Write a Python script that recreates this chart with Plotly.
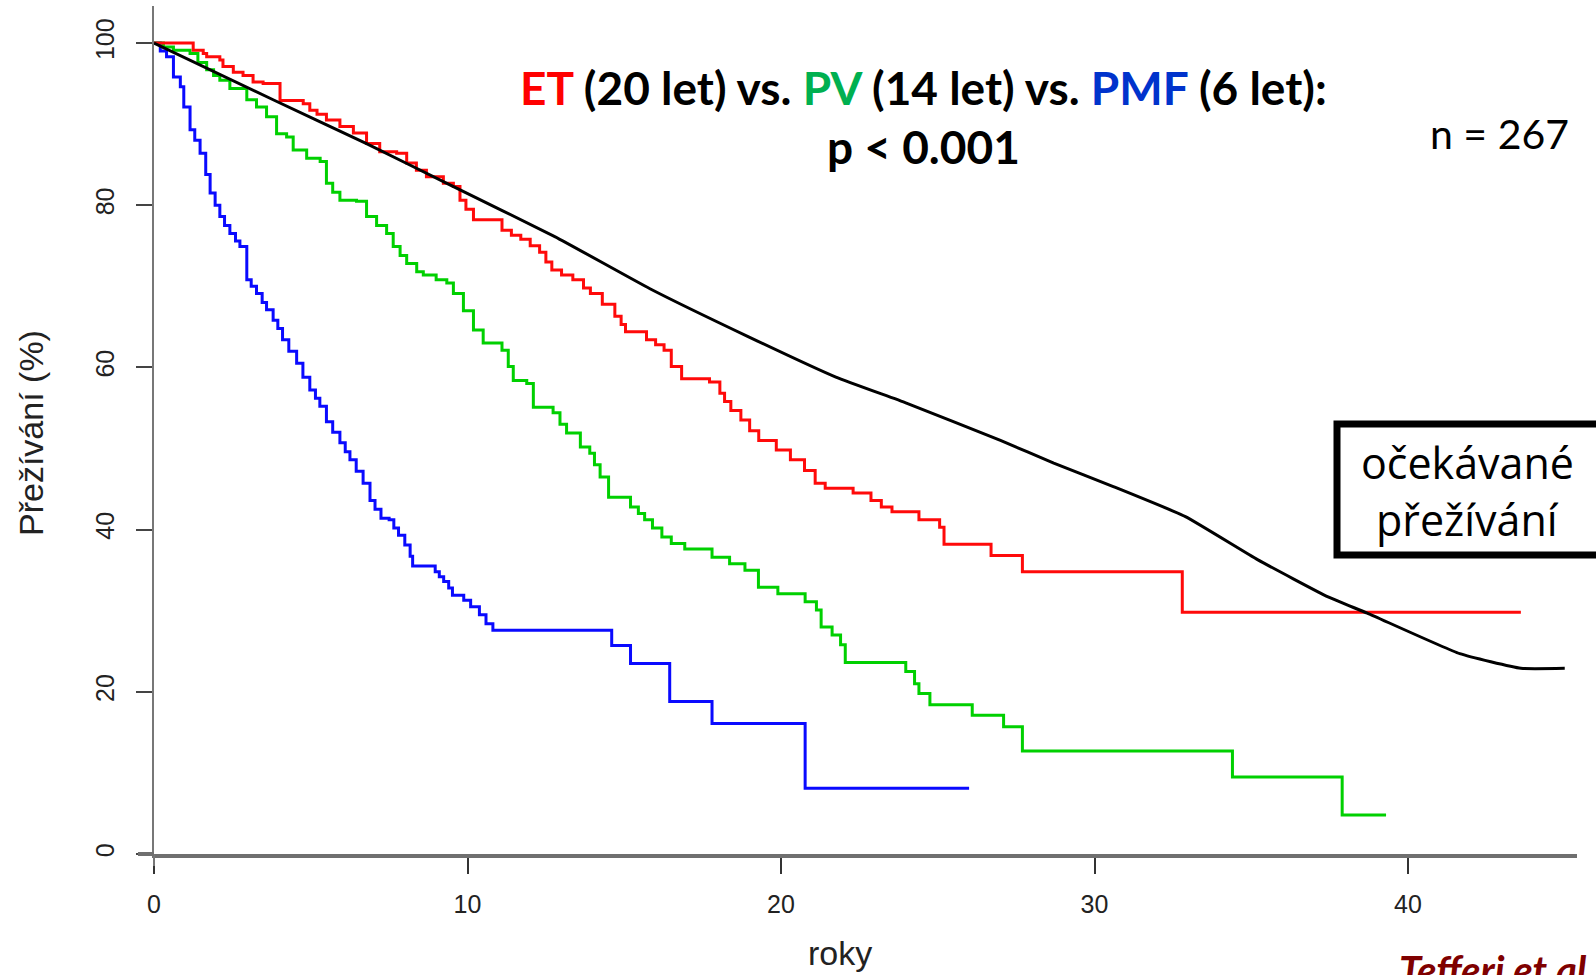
import plotly.graph_objects as go

# ---------------- data ----------------
pmf_t = [0, 0.2, 0.4, 0.62, 0.84, 0.95, 1.15, 1.3, 1.47, 1.65, 1.79, 1.95, 2.1, 2.25, 2.42, 2.6, 2.74,
         2.96, 3.1, 3.27, 3.45, 3.59, 3.8, 3.95, 4.1, 4.3, 4.55, 4.75, 4.97, 5.15, 5.29, 5.5, 5.7, 5.93,
         6.1, 6.25, 6.45, 6.67, 6.89, 7.05, 7.24, 7.5, 7.65, 7.8, 8.0, 8.17, 8.25, 8.97, 9.1, 9.24, 9.4,
         9.52, 9.88, 10.1, 10.38, 10.59, 10.81, 14.6, 15.2, 16.45, 17.8, 20.77, 26.0]
pmf_s = [100, 99.0, 98.3, 95.8, 94.6, 92.1, 89.3, 88.0, 86.4, 83.8, 81.5, 80.0, 78.6, 77.5, 76.5, 75.6, 74.9,
         70.8, 70.0, 69.1, 68.0, 67.1, 65.8, 64.8, 63.4, 62.0, 60.5, 58.8, 57.2, 56.2, 55.2, 53.3, 52.0, 50.7,
         49.6, 48.6, 47.2, 45.7, 43.6, 42.5, 41.4, 41.2, 40.2, 39.3, 38.1, 36.7, 35.5, 34.8, 34.2, 33.6, 32.8,
         31.9, 31.3, 30.5, 29.5, 28.4, 27.6, 25.7, 23.5, 18.8, 16.1, 8.1, 8.1]

pv_t = [0, 0.3, 0.62, 1.15, 1.4, 1.68, 1.9, 2.1, 2.42, 2.96, 3.27, 3.59, 3.91, 4.23, 4.44, 4.87, 5.3, 5.5,
        5.7, 5.93, 6.46, 6.78, 7.1, 7.42, 7.63, 7.85, 8.06, 8.38, 8.59, 9.0, 9.34, 9.55, 9.87, 10.19, 10.5,
        11.1, 11.3, 11.46, 11.89, 12.1, 12.73, 12.95, 13.16, 13.6, 13.9, 14.05, 14.23, 14.5, 15.2, 15.45,
        15.65, 15.9, 16.2, 16.5, 16.93, 17.8, 18.36, 18.85, 19.28, 19.9, 20.77, 21.13, 21.28, 21.63, 21.9,
        22.05, 23.98, 24.26, 24.4, 24.75, 26.1, 27.1, 27.7, 34.4, 37.9, 39.3]
pv_s = [100, 99.5, 99.1, 98.7, 97.6, 96.7, 96.0, 95.4, 94.4, 93.0, 92.1, 90.9, 88.8, 88.4, 86.8, 85.8, 85.4, 82.7,
        81.6, 80.6, 80.5, 78.6, 77.5, 76.5, 74.9, 73.8, 72.8, 71.8, 71.4, 70.8, 70.4, 69.1, 67.0, 64.6, 63.0,
        62.1, 60.1, 58.4, 58.0, 55.1, 54.4, 53.0, 51.9, 50.2, 49.4, 48.0, 46.5, 44.0, 42.8, 42.0,
        41.2, 40.2, 39.1, 38.3, 37.6, 36.6, 35.8, 35.0, 32.9, 32.1, 31.1, 30.1, 28.0, 27.0, 25.8,
        23.6, 22.5, 21.0, 19.8, 18.4, 17.1, 15.7, 12.7, 9.5, 4.8, 4.8]

et_t = [0, 1.25, 1.57, 1.68, 2.1, 2.2, 2.53, 2.84, 3.16, 3.48, 4.02, 4.76, 4.97, 5.2, 5.5, 5.93, 6.36, 6.78,
        7.2, 7.74, 8.06, 8.37, 8.69, 9.23, 9.55, 9.76, 9.95, 10.19, 11.1, 11.4, 11.7, 12.0, 12.3, 12.5, 12.69,
        13.0, 13.36, 13.7, 13.92, 14.3, 14.7, 14.9, 15.04, 15.71, 16.0, 16.27, 16.5, 16.83, 17.72, 18.05, 18.2,
        18.4, 18.72, 19.0, 19.29, 19.85, 20.3, 20.75, 21.09, 21.41, 22.3, 22.87, 23.2, 23.54, 24.4, 25.06,
        25.2, 26.7, 27.7, 32.8, 43.6]
et_s = [100, 99.1, 98.7, 98.3, 97.9, 97.1, 96.4, 96.0, 95.2, 95.0, 92.9, 92.5, 91.7, 91.2, 90.5, 89.7, 88.9, 87.6,
        86.6, 86.4, 85.2, 84.3, 83.5, 82.7, 82.3, 80.6, 79.5, 78.2, 76.9, 76.3, 75.8, 75.0, 74.2, 73.0, 72.0,
        71.4, 70.8, 69.8, 69.1, 67.8, 66.3, 65.3, 64.4, 63.4, 62.8, 62.1, 60.1, 58.6, 58.2, 56.8, 55.8,
        54.7, 53.5, 52.2, 51.0, 49.8, 48.6, 47.3, 45.7, 45.1, 44.5, 43.6, 42.8, 42.2, 41.2, 40.3,
        38.2, 36.8, 34.8, 29.8, 29.8]

exp_t = [0, 3.8, 6.78, 9.44, 12.8, 15.82, 18.95, 21.75, 24.0, 27.0, 28.7, 30.6, 32.9, 35.2, 37.45, 38.7,
         41.65, 43.6, 45.0]
exp_s = [100, 93.0, 87.6, 82.5, 76.1, 69.7, 63.8, 58.8, 55.6, 51.0, 48.2, 45.3, 41.6, 36.3, 31.7, 29.7,
         24.7, 22.9, 22.9]

x_ticks = [0, 10, 20, 30, 40]
y_ticks = [0, 20, 40, 60, 80, 100]

# ---------------- geometry ----------------
W, H = 1596, 975
PL, PR, PT, PB = 154, 1577, 6, 854
X_MAX = (PR - PL) / 31.35
Y_MAX = (PB - PT) / 8.11


def xp(px):
    return (px - PL) / (PR - PL)


def yp(py):
    return (PB - py) / (PB - PT)


fig = go.Figure()
fig.add_trace(go.Scatter(x=pmf_t, y=pmf_s, mode="lines", line=dict(color="#0a0aff", width=3, shape="hv")))
fig.add_trace(go.Scatter(x=pv_t, y=pv_s, mode="lines", line=dict(color="#00d000", width=3, shape="hv")))
fig.add_trace(go.Scatter(x=et_t, y=et_s, mode="lines", line=dict(color="#ff0a0a", width=3, shape="hv")))
fig.add_trace(go.Scatter(x=exp_t, y=exp_s, mode="lines",
                         line=dict(color="#000000", width=3, shape="spline", smoothing=0.4)))

axfont = dict(family="Liberation Sans Narrow, Arial Narrow, Liberation Sans, Arial", size=25, color="#222")

fig.update_layout(
    width=W, height=H,
    margin=dict(l=PL, r=W - PR, t=PT, b=H - PB),
    paper_bgcolor="white", plot_bgcolor="white",
    showlegend=False,
    xaxis=dict(range=[0, X_MAX], showgrid=False, zeroline=False, showline=True,
               linecolor="#6f6f6f", linewidth=4, ticks="outside", ticklen=16, tickwidth=1.5,
               tickcolor="#333", tickvals=x_ticks, tickfont=axfont, ticklabelstandoff=9),
    yaxis=dict(range=[0, Y_MAX], showgrid=False, zeroline=False, showline=True,
               linecolor="#777", linewidth=2, ticks="outside", ticklen=16, tickwidth=1.5,
               tickcolor="#444", tickvals=y_ticks, tickangle=-90, tickfont=axfont, ticklabelstandoff=12),
)

# axis extensions
fig.add_shape(type="line", xref="paper", yref="paper", x0=0, x1=0, y0=yp(854), y1=yp(866),
              line=dict(color="#777", width=2))
fig.add_shape(type="line", xref="paper", yref="paper", x0=xp(138), x1=0, y0=0, y1=0,
              line=dict(color="#6f6f6f", width=4))

# expected survival box
fig.add_shape(type="rect", xref="paper", yref="paper", x0=xp(1337), x1=xp(1640), y0=yp(555), y1=yp(424),
              line=dict(color="black", width=7), fillcolor="white", layer="above")

annots = []
title_font = dict(family="Lato, Open Sans, sans-serif", size=46, color="black")
annots.append(dict(xref="paper", yref="paper", x=xp(923), y=yp(87), xanchor="center", yanchor="middle",
                   showarrow=False, font=title_font,
                   text="<b><span style='color:#ff0000'>ET</span> (20 let) vs. "
                        "<span style='color:#00b050'>PV</span> (14 let) vs. "
                        "<span style='color:#0033cc'>PMF</span> (6 let):</b>"))
annots.append(dict(xref="paper", yref="paper", x=xp(923), y=yp(146), xanchor="center", yanchor="middle",
                   showarrow=False, font=title_font, text="<b>p &lt; 0.001</b>"))
annots.append(dict(xref="paper", yref="paper", x=xp(1499), y=yp(134), xanchor="center", yanchor="middle",
                   showarrow=False, font=dict(family="Lato, Open Sans, sans-serif", size=41, color="black"),
                   text="n = 267"))
box_font = dict(family="Open Sans, Noto Sans, sans-serif", size=43, color="black")
annots.append(dict(xref="paper", yref="paper", x=xp(1467), y=yp(463), xanchor="center", yanchor="middle",
                   showarrow=False, font=box_font, text="očekávané"))
annots.append(dict(xref="paper", yref="paper", x=xp(1467), y=yp(519), xanchor="center", yanchor="middle",
                   showarrow=False, font=box_font, text="přežívání"))
annots.append(dict(xref="paper", yref="paper", x=xp(31), y=yp(433), xanchor="center", yanchor="middle",
                   textangle=-90, showarrow=False,
                   font=dict(family="Liberation Sans Narrow, Arial Narrow, Liberation Sans, Arial", size=34,
                             color="#222"),
                   text="Přežívání (%)"))
annots.append(dict(xref="paper", yref="paper", x=xp(840), y=yp(953), xanchor="center", yanchor="middle",
                   showarrow=False,
                   font=dict(family="Liberation Sans Narrow, Arial Narrow, Liberation Sans, Arial", size=34,
                             color="#222"),
                   text="roky"))
annots.append(dict(xref="paper", yref="paper", x=xp(1397), y=yp(944), xanchor="left", yanchor="top",
                   showarrow=False,
                   font=dict(family="Lato, Open Sans, sans-serif", size=40, color="#7f0000"),
                   text="<b><i>Tefferi et al.</i></b>"))
fig.update_layout(annotations=annots)

fig.write_html("out.html", config={"displayModeBar": False},
               post_script="document.body.style.margin='0px';document.body.style.overflow='hidden';")
